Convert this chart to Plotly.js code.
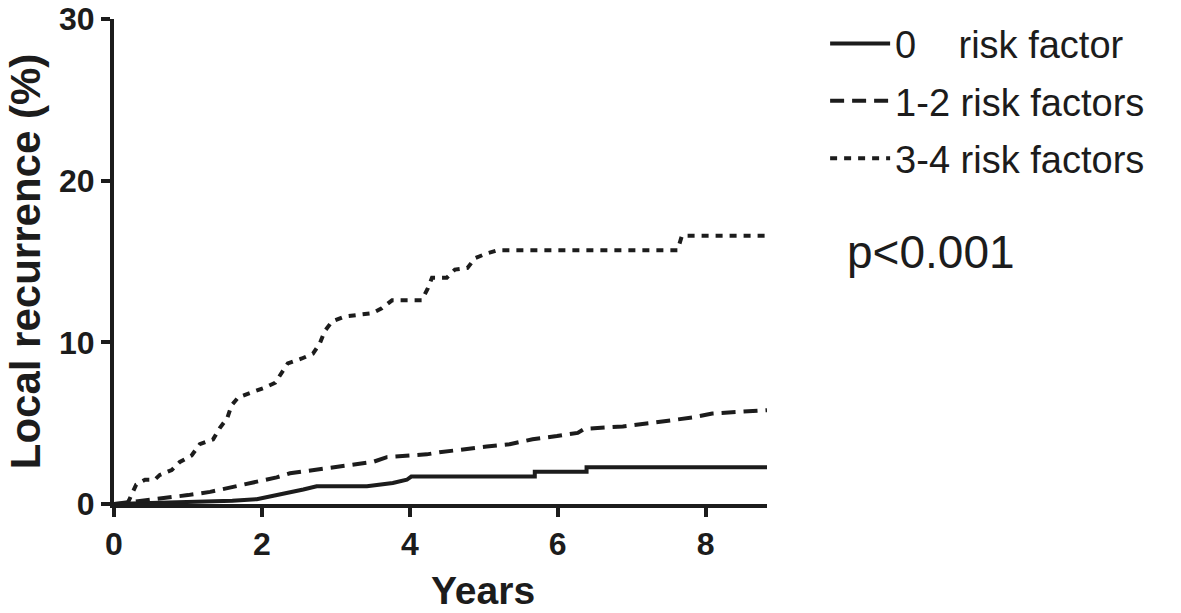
<!DOCTYPE html>
<html>
<head>
<meta charset="utf-8">
<script src="https://cdn.plot.ly/plotly-3.0.1.min.js"></script>
<style>html,body{margin:0;padding:0;background:#fff;}#chart{width:1181px;height:613px;}</style>
</head>
<body>
<div id="chart"></div>
<script>
// Series names
const seriesNames = ["0    risk factor", "1-2 risk factors", "3-4 risk factors"];

// 0 risk factor (solid)
const yearsNone = [0, 1.0, 1.6, 1.93, 2.1, 2.33, 2.56, 2.74, 3.42, 3.77, 3.96, 4.02, 5.69, 5.69, 6.39, 6.39, 8.83];
const recurNone = [0, 0.1, 0.2, 0.3, 0.45, 0.7, 0.9, 1.1, 1.1, 1.3, 1.5, 1.7, 1.7, 2.0, 2.0, 2.27, 2.27];

// 1-2 risk factors (dashed)
const yearsMid = [0, 0.1, 0.4, 0.66, 1.0, 1.3, 1.6, 1.93, 2.2, 2.38, 2.55, 2.92, 3.19, 3.5, 3.69, 3.9, 4.23, 4.4, 4.72, 5.04, 5.35, 5.66, 5.99, 6.27, 6.36, 6.61, 6.88, 7.24, 7.51, 7.82, 8.09, 8.42, 8.64, 8.83];
const recurMid = [0, 0.05, 0.25, 0.35, 0.55, 0.75, 1.05, 1.35, 1.65, 1.9, 2.0, 2.2, 2.4, 2.6, 2.9, 2.95, 3.07, 3.2, 3.4, 3.55, 3.7, 4.0, 4.2, 4.4, 4.65, 4.7, 4.8, 5.0, 5.15, 5.35, 5.6, 5.7, 5.8, 5.8];

// 3-4 risk factors (dotted)
const yearsHigh = [0, 0.18, 0.3, 0.42, 0.55, 0.62, 0.78, 0.89, 1.05, 1.16, 1.34, 1.43, 1.53, 1.59, 1.68, 1.86, 2.04, 2.18, 2.27, 2.35, 2.54, 2.69, 2.78, 2.85, 2.95, 3.12, 3.3, 3.49, 3.62, 3.76, 4.16, 4.24, 4.3, 4.5, 4.61, 4.78, 4.88, 5.04, 5.19, 7.62, 7.68, 8.83];
const recurHigh = [0, 0, 1.2, 1.5, 1.5, 1.8, 2.1, 2.6, 3.0, 3.7, 4.0, 4.7, 5.3, 6.1, 6.6, 6.9, 7.2, 7.5, 8.1, 8.7, 9.0, 9.3, 9.9, 10.7, 11.3, 11.6, 11.7, 11.8, 12.1, 12.6, 12.6, 13.3, 14.0, 14.0, 14.5, 14.6, 15.2, 15.5, 15.7, 15.7, 16.6, 16.6];

// Axis ticks and texts
const xTicks = [0, 2, 4, 6, 8];
const yTicks = [0, 10, 20, 30];
const xTitle = "Years";
const yTitle = "Local recurrence (%)";
const pValueText = "p<0.001";

const ink = "#1c1c1c";
const fam = "Liberation Sans, Arial, Helvetica, sans-serif";

const traces = [
  {x: yearsNone, y: recurNone, name: seriesNames[0], legendgroup: "a", mode: "lines",
   line: {color: ink, width: 4, dash: "solid"}},
  {x: yearsMid, y: recurMid, name: seriesNames[1], legendgroup: "b", mode: "lines",
   line: {color: ink, width: 4, dash: "14px,8px"}},
  {x: yearsHigh, y: recurHigh, name: seriesNames[2], legendgroup: "c", mode: "lines",
   line: {color: ink, width: 4, dash: "7px,7px"}}
];

const layout = {
  width: 1181, height: 613,
  margin: {l: 114, r: 414, t: 15, b: 109},
  paper_bgcolor: "#fff", plot_bgcolor: "#fff",
  showlegend: true,
  legend: {x: 1.089, xanchor: "left", y: 1.014, yanchor: "top",
    font: {family: fam, size: 38, color: ink}, traceorder: "grouped", tracegroupgap: 5,
    itemwidth: 60, bgcolor: "rgba(0,0,0,0)"},
  xaxis: {range: [0, 8.83], tickvals: xTicks, ticktext: xTicks.map(String),
    showline: true, linewidth: 4, linecolor: ink, ticks: "outside", ticklen: 9, tickwidth: 4, tickcolor: ink,
    showgrid: false, zeroline: false, fixedrange: true,
    tickfont: {family: fam, size: 32, color: ink, weight: 700}},
  yaxis: {range: [0, 30], tickvals: yTicks, ticktext: yTicks.map(String),
    showline: true, linewidth: 4, linecolor: ink, ticks: "outside", ticklen: 9, tickwidth: 4, tickcolor: ink,
    showgrid: false, zeroline: false, fixedrange: true,
    tickfont: {family: fam, size: 32, color: ink, weight: 700},
    title: {text: yTitle, font: {family: fam, size: 42, color: ink, weight: 700}, standoff: 6}},
  annotations: [
    {text: xTitle, xref: "paper", yref: "paper", x: 0.565, y: -0.178, xanchor: "center", yanchor: "middle",
     showarrow: false, font: {family: fam, size: 39, color: ink, weight: 700}},
    {text: pValueText, xref: "paper", yref: "paper", x: 1.12, y: 0.52, xanchor: "left", yanchor: "middle",
     showarrow: false, font: {family: fam, size: 46, color: ink}}
  ]
};

Plotly.newPlot("chart", traces, layout, {displayModeBar: false, staticPlot: true});
</script>
</body>
</html>
